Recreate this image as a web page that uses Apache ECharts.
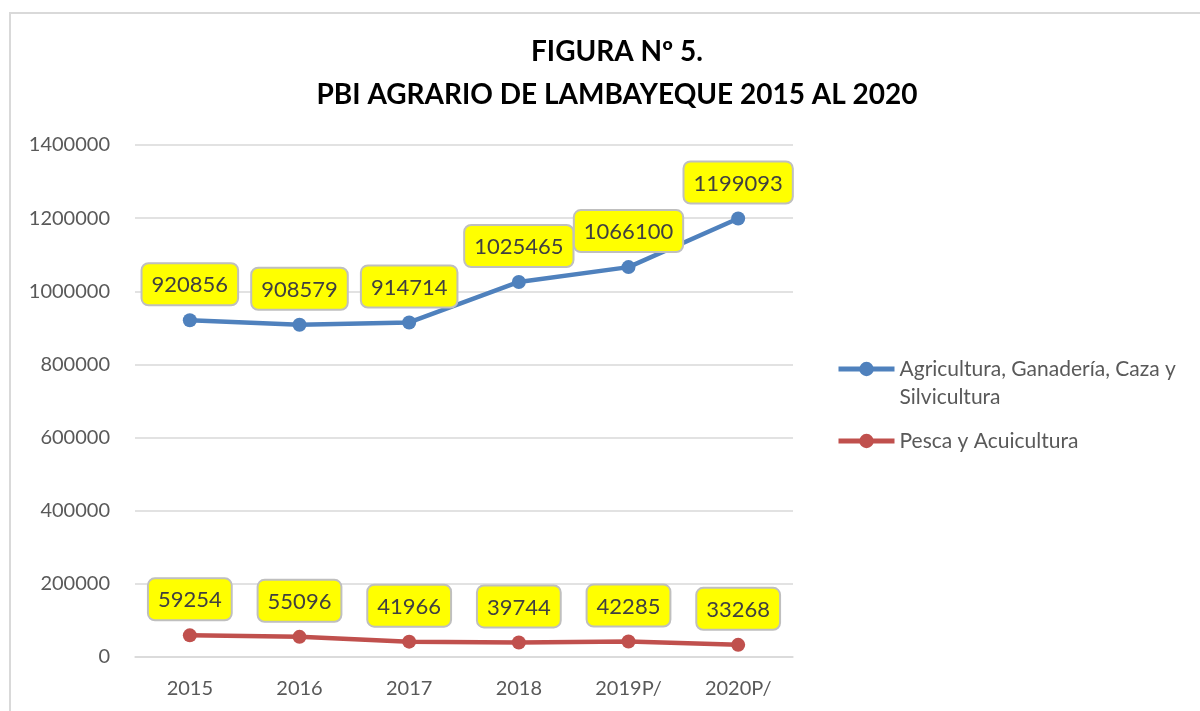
<!DOCTYPE html>
<html>
<head>
<meta charset="utf-8">
<title>PBI Agrario de Lambayeque</title>
<script src="https://cdn.jsdelivr.net/npm/echarts@6/dist/echarts.min.js"></script>
<style>
    html, body {margin: 0; padding: 0; background: #fff;}
    #chart {width: 1200px; height: 711px;}
</style>
</head>
<body>
<div id="chart"></div>
<script>
const years = ['2015', '2016', '2017', '2018', '2019P/', '2020P/'];
const agricultura = [920856, 908579, 914714, 1025465, 1066100, 1199093];
const pesca = [59254, 55096, 41966, 39744, 42285, 33268];
const nameAgri = 'Agricultura, Ganadería, Caza y Silvicultura';
const namePesca = 'Pesca y Acuicultura';

const font = 'Lato, "Open Sans", sans-serif';

const chartDom = document.getElementById('chart');
const myChart = echarts.init(chartDom);

function labelStyle() {
    return {
        show: true,
        position: 'top',
        distance: 9,
        fontFamily: font,
        fontSize: 22,
        color: '#404040',
        backgroundColor: '#FFFF00',
        borderColor: '#BFBFBF',
        borderWidth: 2,
        borderRadius: 6,
        padding: [10, 9, 8, 9]
    };
}

function makeSeries(name, data, color) {
    return {
        name: name,
        type: 'line',
        data: data,
        symbol: 'circle',
        symbolSize: 14,
        lineStyle: {color: color, width: 4.5},
        itemStyle: {color: color},
        label: labelStyle(),
        z: 3
    };
}

const legendText = {
    fontFamily: font,
    fontSize: 21,
    color: '#595959',
    lineHeight: 28
};

const option = {
    backgroundColor: '#fff',
    animation: false,
    title: {
        text: 'FIGURA Nº 5.\nPBI AGRARIO DE LAMBAYEQUE 2015 AL 2020',
        left: 612,
        top: 25,
        textAlign: 'center',
        textStyle: {
            fontFamily: font,
            fontSize: 28,
            fontWeight: 'bold',
            color: '#000',
            lineHeight: 43
        }
    },
    legend: [
        {
            data: [nameAgri],
            left: 831,
            top: 322,
            itemWidth: 56,
            itemHeight: 18,
            lineStyle: {width: 5},
            // empty first line keeps the icon level with the first text line
            formatter: () => '\nAgricultura, Ganadería, Caza y\nSilvicultura',
            textStyle: legendText
        },
        {
            data: [namePesca],
            left: 831,
            top: 422,
            itemWidth: 56,
            itemHeight: 18,
            lineStyle: {width: 5},
            textStyle: legendText
        }
    ],
    grid: {
        left: 135,
        right: 407,
        top: 145,
        bottom: 54
    },
    xAxis: {
        type: 'category',
        data: years,
        boundaryGap: true,
        axisLine: {lineStyle: {color: '#D9D9D9', width: 1.5}},
        axisTick: {show: false},
        axisLabel: {
            fontFamily: font,
            fontSize: 20,
            color: '#595959',
            margin: 22
        }
    },
    yAxis: {
        type: 'value',
        min: 0,
        max: 1400000,
        interval: 200000,
        axisLine: {show: false},
        axisTick: {show: false},
        splitLine: {lineStyle: {color: '#D9D9D9', width: 1.5}},
        axisLabel: {
            fontFamily: font,
            fontSize: 20,
            color: '#595959',
            margin: 25,
            formatter: (value) => String(value)
        }
    },
    graphic: [
        {
            type: 'rect',
            shape: {x: 10, y: 13, width: 1220, height: 730},
            style: {fill: 'none', stroke: '#D9D9D9', lineWidth: 2},
            silent: true
        }
    ],
    series: [
        makeSeries(nameAgri, agricultura, '#4F81BD'),
        makeSeries(namePesca, pesca, '#C0504D')
    ]
};

option && myChart.setOption(option);

window.addEventListener('resize', function () {
    myChart.resize();
});
</script>
</body>
</html>
